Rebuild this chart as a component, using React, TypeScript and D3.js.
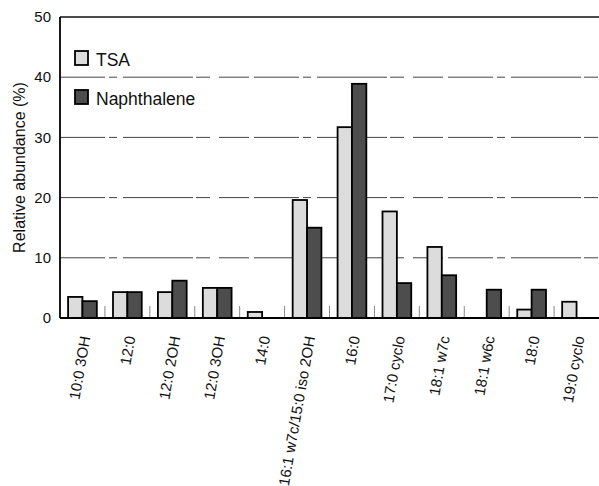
import React from "react";
import { scaleBand, scaleLinear } from "d3";

const categories = [
  "10:0 3OH",
  "12:0",
  "12:0 2OH",
  "12:0 3OH",
  "14:0",
  "16:1 w7c/15:0 iso 2OH",
  "16:0",
  "17:0 cyclo",
  "18:1 w7c",
  "18:1 w6c",
  "18:0",
  "19:0 cyclo",
];
const tsa = [3.5, 4.3, 4.3, 5.0, 1.0, 19.6, 31.7, 17.7, 11.8, 0, 1.4, 2.7];
const naphthalene = [2.8, 4.3, 6.2, 5.0, 0, 15.0, 38.9, 5.8, 7.1, 4.7, 4.7, 0];
const yTicks = [0, 10, 20, 30, 40, 50];
const seriesNames = ["TSA", "Naphthalene"];

const width = 599;
const height = 486;
const margin = { top: 17, right: 0, bottom: 168, left: 60 };
const font = "'Liberation Sans', Arial, Helvetica, sans-serif";
const fills = ["#dcdcdc", "#4d4d4d"];

const App = () => {
  const x = scaleBand<string>()
    .domain(categories)
    .range([margin.left, width - margin.right])
    .paddingInner(0.36)
    .paddingOuter(0.18);

  const y = scaleLinear()
    .domain([0, 50])
    .range([height - margin.bottom, margin.top]);

  const inner = scaleBand<number>()
    .domain([0, 1])
    .range([0, x.bandwidth()]);

  const step = x.step();
  const series = [tsa, naphthalene];

  return (
    <div style={{ position: "absolute", left: 0, top: 0 }}>
      <svg width={width} height={height} style={{ display: "block", background: "#fff" }}>
        {/* grid */}
        {yTicks.slice(1, -1).map(t => (
          <line
            key={t}
            x1={margin.left}
            x2={width}
            y1={y(t)}
            y2={y(t)}
            stroke="#444"
            strokeWidth={1}
            strokeDasharray="45 4 8 6 70 3 14 9 30 5"
          />
        ))}
        {/* top frame */}
        <line x1={margin.left} x2={width} y1={y(50)} y2={y(50)} stroke="#111" strokeWidth={1.5} />
        {/* small ticks between groups */}
        {categories.slice(1).map((c, i) => (
          <line
            key={c}
            x1={margin.left + step * (i + 1)}
            x2={margin.left + step * (i + 1)}
            y1={y(0)}
            y2={y(0) - 12}
            stroke="#888"
            strokeWidth={1}
          />
        ))}
        {/* bars */}
        {series.map((vals, s) =>
          vals.map((v, i) =>
            v > 0 ? (
              <rect
                key={`${s}-${i}`}
                x={(x(categories[i]) ?? 0) + (inner(s) ?? 0)}
                y={y(v)}
                width={inner.bandwidth()}
                height={y(0) - y(v)}
                fill={fills[s]}
                stroke="#000"
                strokeWidth={1.8}
              />
            ) : null
          )
        )}
        {/* axes */}
        <line x1={margin.left} x2={margin.left} y1={y(50)} y2={y(0)} stroke="#000" strokeWidth={1.8} />
        <line x1={margin.left} x2={width} y1={y(0)} y2={y(0)} stroke="#000" strokeWidth={1.8} />
        {yTicks.map(t => (
          <text
            key={t}
            x={margin.left - 9}
            y={y(t)}
            dy="0.35em"
            textAnchor="end"
            fontFamily={font}
            fontSize={15}
            fill="#111"
          >
            {t}
          </text>
        ))}
        <text
          transform={`translate(25,${(y(0) + y(50)) / 2}) rotate(-90)`}
          textAnchor="middle"
          fontFamily={font}
          fontSize={16}
          fill="#111"
        >
          Relative abundance (%)
        </text>
        {/* category labels */}
        {categories.map(c => {
          const cx = (x(c) ?? 0) + x.bandwidth() / 2 + 8;
          return (
            <text
              key={c}
              transform={`translate(${cx},${y(0) + 19}) rotate(-80)`}
              textAnchor="end"
              fontFamily={font}
              fontSize={15}
              fill="#111"
            >
              {c}
            </text>
          );
        })}
        {/* legend */}
        {seriesNames.map((n, i) => (
          <g key={n} transform={`translate(75,${51 + i * 39})`}>
            <rect width={13} height={14} fill={fills[i]} stroke="#000" strokeWidth={1.8} />
            <text x={21} y={15} fontFamily={font} fontSize={17.5} fill="#111">
              {n}
            </text>
          </g>
        ))}
      </svg>
    </div>
  );
};

export default App;
